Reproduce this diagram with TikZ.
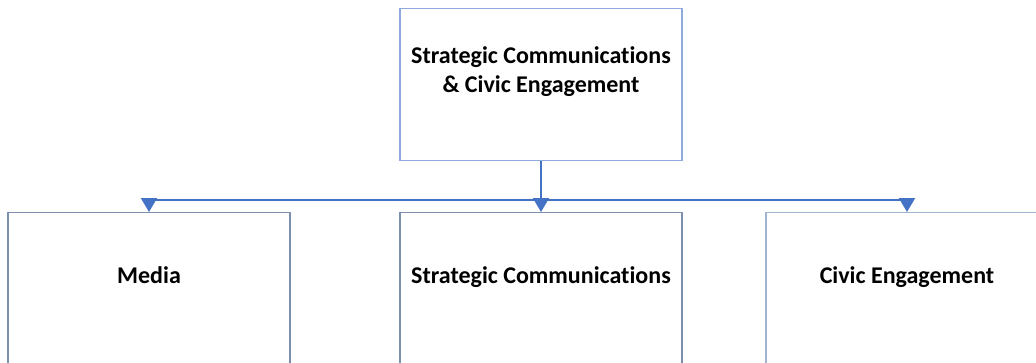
\documentclass[tikz,border=0pt]{standalone}
\usepackage{fontspec}
\setmainfont[Ligatures=NoCommon]{Carlito}
\usepackage{tikz}
\usetikzlibrary{arrows.meta, positioning, calc}
\definecolor{officeblue}{HTML}{4472C4}
\definecolor{topedge}{HTML}{8FAADC}
\definecolor{unitedge}{HTML}{7D8FAE}
\definecolor{paleedge}{HTML}{9FB4D2}

\begin{document}
\begin{tikzpicture}[x=1pt, y=-1pt,
  unit/.style={draw=unitedge, line width=1.3pt, minimum width=282pt, minimum height=190pt, anchor=north, inner sep=0pt},
  head/.style={unit, draw=topedge, minimum height=152pt},
  lbl/.style={font=\fontsize{24}{29}\selectfont\bfseries, align=center, anchor=base, inner sep=0pt},
  arr/.style={-{Triangle[length=14pt, width=16pt]}, line width=2pt, color=officeblue},
  bar/.style={line width=2pt, color=officeblue}
]
\clip (0,0) rectangle (1036,362);
\useasboundingbox (0,0) rectangle (1036,362);

\node[head] (top) at (541,8) {};
\node[unit] (media) at (149,212) {};
\node[unit] (strat) at (541,212) {};
\node[unit, draw=paleedge] (civic) at (907,212) {};

\node[lbl] (toptxt) at (541,92) {Strategic Communications\\ \& Civic Engagement};
\node[lbl] (mediatxt) at (149,283) {Media};
\node[lbl] (strattxt) at (541,283) {Strategic Communications};
\node[lbl] (civictxt) at (907,283) {Civic Engagement};

\coordinate (split) at (top.south |- 0,200);
\draw[bar] (media.north |- split) -- (civic.north |- split);
\draw[arr] (top.south) -- (strat.north);
\draw[arr] (media.north |- split) -- (media.north);
\draw[arr] (civic.north |- split) -- (civic.north);
\end{tikzpicture}
\end{document}
